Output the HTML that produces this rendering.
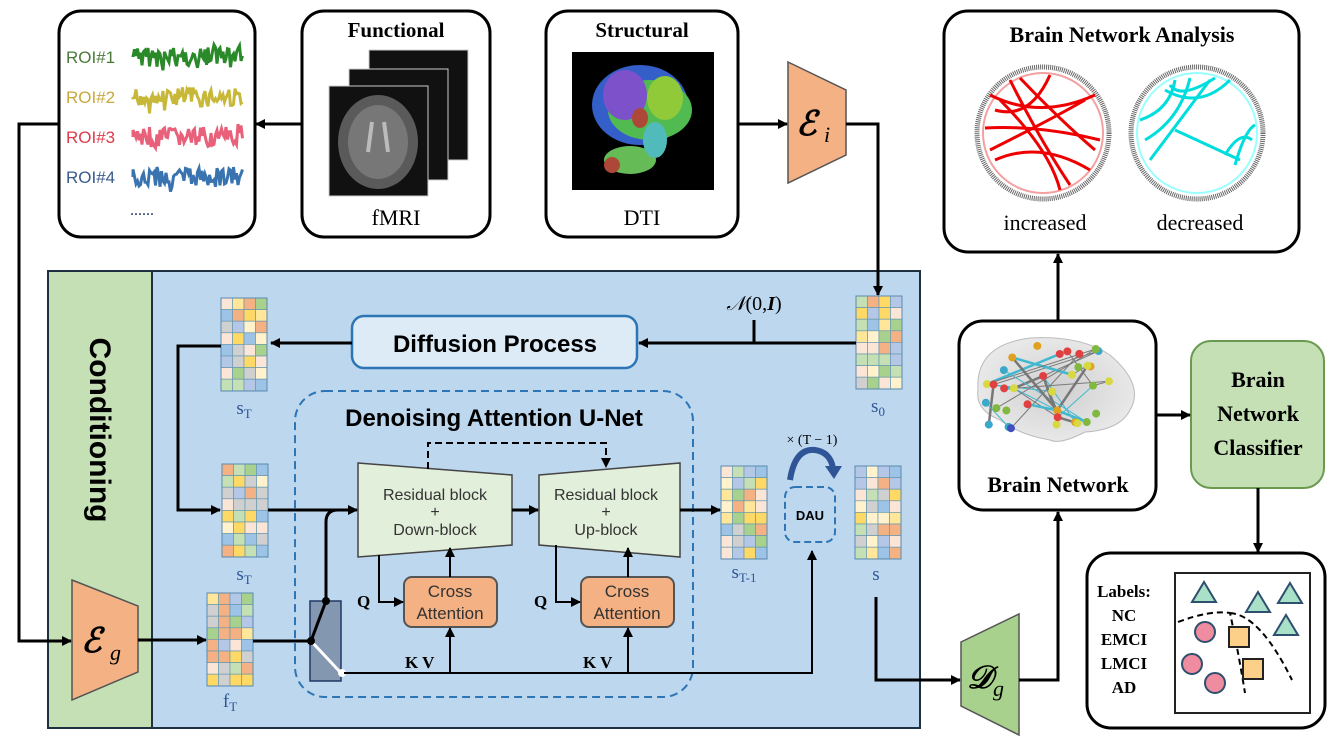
<!DOCTYPE html>
<html><head><meta charset="utf-8"><style>
html,body{margin:0;padding:0;background:#fff;}
svg{display:block;}
.ser{font-family:"Liberation Serif",serif;}
.san{font-family:"Liberation Sans","DejaVu Sans",sans-serif;}
</style></head><body>
<svg id="s" width="1335" height="747" viewBox="0 0 1335 747" xmlns="http://www.w3.org/2000/svg">
<defs>
<marker id="a" markerWidth="10" markerHeight="10" refX="9" refY="5" orient="auto" markerUnits="userSpaceOnUse"><path d="M0,0 L10,5 L0,10 z" fill="#000"/></marker>
<radialGradient id="br" cx="50%" cy="50%" r="50%"><stop offset="0" stop-color="#cfcfcf"/><stop offset="1" stop-color="#e8e8e8"/></radialGradient>
</defs>

<!-- main panel -->
<rect x="48" y="271" width="872" height="457" fill="#bdd7ee" stroke="#1f3040" stroke-width="2"/>
<rect x="48" y="271" width="104" height="457" fill="#c5e0b4" stroke="#1f3040" stroke-width="2"/>
<text transform="translate(90,430) rotate(90)" class="san" font-size="30" font-weight="bold" text-anchor="middle">Conditioning</text>

<!-- top boxes -->
<rect x="59" y="11" width="196" height="226" rx="22" fill="#fff" stroke="#000" stroke-width="3"/>
<rect x="302" y="11" width="188" height="226" rx="22" fill="#fff" stroke="#000" stroke-width="3"/>
<rect x="546" y="11" width="192" height="226" rx="22" fill="#fff" stroke="#000" stroke-width="3"/>
<g class="san" font-size="17">
<text x="66" y="63" fill="#4a7a3a">ROI#1</text>
<text x="66" y="103" fill="#c9a83a">ROI#2</text>
<text x="66" y="143" fill="#e03a4a">ROI#3</text>
<text x="66" y="183" fill="#3a5a8a">ROI#4</text>
</g>
<g id="sig" fill="none" stroke-width="3"></g>
<text x="130" y="215" class="ser" font-size="16" fill="#1f3864">......</text>

<text x="396" y="37" class="ser" font-size="21" font-weight="bold" text-anchor="middle">Functional</text>
<rect x="369" y="50" width="99" height="110" fill="#111" stroke="#ccc"/>
<rect x="349" y="69" width="99" height="111" fill="#111" stroke="#ccc"/>
<rect x="329" y="86" width="99" height="110" fill="#111" stroke="#ccc"/>
<ellipse cx="378" cy="142" rx="40" ry="47" fill="#5a5a5a"/>
<ellipse cx="378" cy="142" rx="30" ry="37" fill="#777"/>
<path d="M372,122 L368,152 M384,122 L388,152" stroke="#bbb" stroke-width="4"/>
<text x="396" y="225" class="ser" font-size="22" text-anchor="middle">fMRI</text>

<text x="642" y="37" class="ser" font-size="21" font-weight="bold" text-anchor="middle">Structural</text>
<rect x="572" y="52" width="142" height="138" fill="#000"/>
<g opacity="0.9">
<ellipse cx="640" cy="105" rx="48" ry="40" fill="#3a6adf"/>
<ellipse cx="650" cy="110" rx="42" ry="30" fill="#5ad05a"/>
<ellipse cx="625" cy="95" rx="22" ry="25" fill="#8a5ae0"/>
<ellipse cx="665" cy="98" rx="18" ry="22" fill="#a0e040"/>
<ellipse cx="630" cy="160" rx="26" ry="14" fill="#70d060"/>
<ellipse cx="655" cy="140" rx="12" ry="18" fill="#5ad0d0"/>
<ellipse cx="640" cy="118" rx="8" ry="10" fill="#c05040"/>
<ellipse cx="612" cy="165" rx="8" ry="8" fill="#c05040"/>
</g>
<text x="642" y="225" class="ser" font-size="22" text-anchor="middle">DTI</text>

<!-- Ei encoder -->
<polygon points="788,62 846,90 846,155 788,183" fill="#f4b183" stroke="#555" stroke-width="1.5"/>
<text x="796" y="135" class="ser" font-size="34" font-style="italic" font-weight="bold">ℰ</text>
<text x="824" y="142" class="ser" font-size="22" font-style="italic">i</text>
<line x1="738" y1="124" x2="787" y2="124" stroke="#000" stroke-width="3" marker-end="url(#a)"/>
<polyline points="846,124 878,124 878,295" fill="none" stroke="#000" stroke-width="3" marker-end="url(#a)"/>

<!-- ROI line to Eg -->
<line x1="302" y1="124" x2="256" y2="124" stroke="#000" stroke-width="3" marker-end="url(#a)"/>
<polyline points="59,124 19,124 19,641 71,641" fill="none" stroke="#000" stroke-width="3" marker-end="url(#a)"/>

<!-- Right side -->
<rect x="944" y="11" width="355" height="241" rx="24" fill="#fff" stroke="#000" stroke-width="3"/>
<text x="1122" y="42" class="ser" font-size="22" font-weight="bold" text-anchor="middle">Brain Network Analysis</text>
<circle cx="1043" cy="133" r="66" fill="none" stroke="#666" stroke-width="5" stroke-dasharray="1 1"/>
<circle cx="1043" cy="133" r="60" fill="#fff" stroke="#f3a0a0" stroke-width="2"/>
<g fill="none" stroke="#e00" stroke-width="3">
<path d="M990,95 Q1040,120 1095,95"/><path d="M985,128 Q1040,125 1100,140"/><path d="M995,160 Q1040,140 1090,170"/>
<path d="M1010,80 Q1040,140 1070,185"/><path d="M1050,75 Q1030,120 995,110"/><path d="M1000,100 Q1050,150 1060,190"/>
<path d="M1020,78 Q1060,120 1095,150"/><path d="M990,150 Q1050,120 1085,100"/></g>
<circle cx="1197" cy="133" r="66" fill="none" stroke="#666" stroke-width="5" stroke-dasharray="1 1"/>
<circle cx="1197" cy="133" r="60" fill="#fff" stroke="#9ff" stroke-width="2"/>
<g fill="none" stroke="#0dd" stroke-width="3">
<path d="M1140,120 Q1170,110 1175,80"/><path d="M1145,140 Q1180,120 1190,78"/><path d="M1150,160 Q1180,120 1210,80"/>
<path d="M1165,90 Q1200,110 1230,80"/><path d="M1175,130 L1240,160"/><path d="M1235,165 Q1245,130 1255,125"/>
<path d="M1225,155 Q1240,130 1252,140"/><path d="M1170,85 Q1180,100 1215,78"/></g>
<text x="1045" y="230" class="ser" font-size="22" text-anchor="middle">increased</text>
<text x="1200" y="230" class="ser" font-size="22" text-anchor="middle">decreased</text>

<line x1="1058" y1="321" x2="1058" y2="254" stroke="#000" stroke-width="3" marker-end="url(#a)"/>
<rect x="959" y="321" width="197" height="189" rx="24" fill="#fff" stroke="#000" stroke-width="3"/>
<path d="M978,390 Q975,345 1030,338 Q1080,335 1110,355 Q1145,385 1130,410 Q1120,430 1085,432 Q1060,445 1050,440 Q1020,435 1000,420 Q975,410 978,390z" fill="url(#br)" stroke="#bbb"/>
<g id="bn"></g>
<text x="1058" y="492" class="ser" font-size="22" font-weight="bold" text-anchor="middle">Brain Network</text>

<rect x="1191" y="341" width="133" height="147" rx="20" fill="#c5e0b4" stroke="#6a9a4f" stroke-width="2"/>
<g class="ser" font-size="22" font-weight="bold" text-anchor="middle">
<text x="1258" y="387">Brain</text><text x="1258" y="421">Network</text><text x="1258" y="455">Classifier</text></g>
<line x1="1156" y1="415" x2="1190" y2="415" stroke="#000" stroke-width="3" marker-end="url(#a)"/>
<line x1="1258" y1="488" x2="1258" y2="552" stroke="#000" stroke-width="3" marker-end="url(#a)"/>

<rect x="1087" y="553" width="238" height="175" rx="24" fill="#fff" stroke="#000" stroke-width="3"/>
<g class="ser" font-size="17" font-weight="bold" text-anchor="middle">
<text x="1124" y="597">Labels:</text><text x="1124" y="621">NC</text><text x="1124" y="645">EMCI</text><text x="1124" y="669">LMCI</text><text x="1124" y="693">AD</text></g>
<rect x="1175" y="573" width="135" height="140" fill="#fff" stroke="#222" stroke-width="2"/>
<g fill="#a8e0c8" stroke="#2f4f6f" stroke-width="2">
<polygon points="1204,582 1216,602 1192,602"/><polygon points="1258,592 1270,612 1246,612"/>
<polygon points="1290,583 1302,603 1278,603"/><polygon points="1286,615 1298,635 1274,635"/></g>
<path d="M1178,622 Q1210,610 1230,613 Q1238,650 1245,693 M1230,613 Q1260,615 1292,680" fill="none" stroke="#000" stroke-width="2" stroke-dasharray="6 4"/>
<g fill="#f08ca0" stroke="#2f4f6f" stroke-width="2">
<circle cx="1205" cy="632" r="10"/><circle cx="1192" cy="664" r="10"/><circle cx="1215" cy="683" r="10"/></g>
<g fill="#fdd08a" stroke="#222" stroke-width="2">
<rect x="1229" y="627" width="20" height="20"/><rect x="1243" y="659" width="20" height="20"/></g>

<polygon points="72,580 138,606 138,672 72,700" fill="#f4b183" stroke="#555" stroke-width="1.5"/>
<text x="81" y="652" class="ser" font-size="34" font-style="italic" font-weight="bold">ℰ</text>
<text x="110" y="660" class="ser" font-size="22" font-style="italic">g</text>
<line x1="138" y1="640" x2="206" y2="640" stroke="#000" stroke-width="3" marker-end="url(#a)"/>

<g id="mats"></g>
<g class="ser" font-size="19" fill="#2f5597" text-anchor="middle">
<text x="244" y="414">s<tspan font-size="13" dy="4">T</tspan></text>
<text x="244" y="580">s<tspan font-size="13" dy="4">T</tspan></text>
<text x="230" y="707">f<tspan font-size="13" dy="4">T</tspan></text>
<text x="744" y="578">s<tspan font-size="13" dy="4">T-1</tspan></text>
<text x="878" y="412">s<tspan font-size="13" dy="4">0</tspan></text>
<text x="876" y="580">s</text>
</g>

<rect x="352" y="316" width="285" height="52" rx="12" fill="#ddebf7" stroke="#2e75b6" stroke-width="2.5"/>
<text x="495" y="352" class="san" font-size="24" font-weight="bold" text-anchor="middle">Diffusion Process</text>
<line x1="856" y1="343" x2="639" y2="343" stroke="#000" stroke-width="3" marker-end="url(#a)"/>
<line x1="754" y1="343" x2="754" y2="320" stroke="#000" stroke-width="3"/>
<text x="754" y="310" class="ser" font-size="20" text-anchor="middle"><tspan font-style="italic">𝒩</tspan>(0,<tspan font-weight="bold" font-style="italic">I</tspan>)</text>
<line x1="352" y1="343" x2="271" y2="343" stroke="#000" stroke-width="3" marker-end="url(#a)"/>
<polyline points="221,346 178,346 178,510 220,510" fill="none" stroke="#000" stroke-width="3" marker-end="url(#a)"/>

<rect x="295" y="391" width="398" height="306" rx="30" fill="none" stroke="#2e75b6" stroke-width="2" stroke-dasharray="8 5"/>
<text x="494" y="426" class="san" font-size="24" font-weight="bold" text-anchor="middle">Denoising Attention U-Net</text>

<polygon points="358,463 512,475 512,545 358,557" fill="#e2efda" stroke="#444" stroke-width="1.5"/>
<polygon points="539,475 680,463 680,557 539,545" fill="#e2efda" stroke="#444" stroke-width="1.5"/>
<g class="san" font-size="16" text-anchor="middle" fill="#333">
<text x="435" y="500">Residual block</text><text x="435" y="517">+</text><text x="435" y="535">Down-block</text>
<text x="606" y="500">Residual block</text><text x="606" y="517">+</text><text x="606" y="535">Up-block</text></g>
<polyline points="428,469 428,443 606,443 606,467" fill="none" stroke="#000" stroke-width="2" stroke-dasharray="7 4" marker-end="url(#a)"/>
<line x1="512" y1="510" x2="538" y2="510" stroke="#000" stroke-width="3" marker-end="url(#a)"/>
<line x1="268" y1="510" x2="357" y2="510" stroke="#000" stroke-width="3" marker-end="url(#a)"/>
<line x1="680" y1="510" x2="720" y2="510" stroke="#000" stroke-width="3" marker-end="url(#a)"/>

<rect x="404" y="577" width="93" height="50" rx="8" fill="#f4b183" stroke="#555" stroke-width="2"/>
<rect x="581" y="577" width="93" height="50" rx="8" fill="#f4b183" stroke="#555" stroke-width="2"/>
<g class="san" font-size="17" text-anchor="middle" fill="#333">
<text x="450" y="597">Cross</text><text x="450" y="619">Attention</text>
<text x="627" y="597">Cross</text><text x="627" y="619">Attention</text></g>
<polyline points="379,555 379,602 403,602" fill="none" stroke="#000" stroke-width="2" marker-end="url(#a)"/>
<polyline points="556,545 556,602 580,602" fill="none" stroke="#000" stroke-width="2" marker-end="url(#a)"/>
<line x1="450" y1="577" x2="450" y2="548" stroke="#000" stroke-width="2" marker-end="url(#a)"/>
<line x1="628" y1="577" x2="628" y2="548" stroke="#000" stroke-width="2" marker-end="url(#a)"/>
<g class="ser" font-size="17" font-weight="bold"><text x="357" y="607">Q</text><text x="534" y="607">Q</text>
<text x="405" y="668">K V</text><text x="583" y="668">K V</text></g>

<rect x="310" y="601" width="31" height="80" fill="#8497b0" stroke="#1f3864" stroke-width="1.5"/>
<line x1="253" y1="641" x2="311" y2="641" stroke="#000" stroke-width="3"/>
<line x1="311" y1="641" x2="326" y2="601" stroke="#000" stroke-width="3"/>
<path d="M326,601 L326,522 Q326,510 338,510" fill="none" stroke="#000" stroke-width="3"/>
<line x1="311" y1="641" x2="341" y2="673" stroke="#fff" stroke-width="3"/>
<circle cx="311" cy="641" r="4" fill="#000"/><circle cx="326" cy="601" r="4" fill="#000"/><circle cx="342" cy="673" r="4" fill="#fff"/>
<polyline points="344,673 812,673 812,551" fill="none" stroke="#000" stroke-width="2" marker-end="url(#a)"/>
<line x1="450" y1="673" x2="450" y2="628" stroke="#000" stroke-width="2" marker-end="url(#a)"/>
<line x1="628" y1="673" x2="628" y2="628" stroke="#000" stroke-width="2" marker-end="url(#a)"/>

<rect x="785" y="487" width="50" height="55" rx="10" fill="none" stroke="#2e75b6" stroke-width="2" stroke-dasharray="7 4"/>
<text x="810" y="520" class="san" font-size="13" font-weight="bold" text-anchor="middle">DAU</text>
<path d="M790,480 Q795,448 815,450 Q830,452 833,468" fill="none" stroke="#2f5597" stroke-width="6"/>
<polygon points="825,466 842,466 834,479" fill="#2f5597"/>
<text x="812" y="444" class="ser" font-size="14" text-anchor="middle">× (T − 1)</text>

<polyline points="876,597 876,680 960,680" fill="none" stroke="#000" stroke-width="3" marker-end="url(#a)"/>
<polygon points="961,642 1019,614 1019,735 961,706" fill="#a9d18e" stroke="#555" stroke-width="1.5"/>
<text x="967" y="688" class="ser" font-size="32" font-style="italic" font-weight="bold">𝒟</text>
<text x="993" y="696" class="ser" font-size="22" font-style="italic">g</text>
<polyline points="1019,680 1058,680 1058,512" fill="none" stroke="#000" stroke-width="3" marker-end="url(#a)"/>
</svg>
<script>
var NS="http://www.w3.org/2000/svg";
function el(p,t,a){var e=document.createElementNS(NS,t);for(var k in a)e.setAttribute(k,a[k]);p.appendChild(e);return e;}
var seed=7;function r(){seed=(seed*9301+49297)%233280;return seed/233280;}
var sig=document.getElementById('sig');
[["#2a8a2a",57],["#c8b83a",97],["#e8607a",137],["#3a74b0",177]].forEach(function(c){
 var d="M133,"+c[1];for(var x=133;x<=243;x+=1.5){d+=" L"+x+","+(c[1]+(r()-0.5)*20+(r()<0.08?(r()-0.3)*26:0)).toFixed(1);}
 el(sig,'path',{d:d,stroke:c[0]});});
var cols=["#9dc3e6","#fbe5d6","#f4b183","#ffe699","#d0d0d0","#a9d18e","#b4c7e7","#c5e0b4","#fff2cc","#ffd966"];
var mats=document.getElementById('mats');
[[221,298],[856,296],[222,464],[207,593],[721,466],[855,466]].forEach(function(m){
 for(var i=0;i<8;i++)for(var j=0;j<4;j++)el(mats,'rect',{x:m[0]+j*11.5,y:m[1]+i*11.6,width:11.5,height:11.6,fill:cols[Math.floor(r()*cols.length)],stroke:"#6a9ab0","stroke-width":0.7});
 el(mats,'rect',{x:m[0],y:m[1],width:46,height:93,fill:"none",stroke:"#5b8bb0","stroke-width":1});});
var bn=document.getElementById('bn');var pts=[];var pc=["#e04040","#3aa8c8","#4050c0","#e0a020","#80b840","#d8d840"];
for(var k=0;k<34;k++){pts.push([985+r()*125,345+r()*85,pc[Math.floor(r()*6)]]);}
for(var k=0;k<30;k++){var a=pts[Math.floor(r()*34)],b=pts[Math.floor(r()*34)];el(bn,'line',{x1:a[0],y1:a[1],x2:b[0],y2:b[1],stroke:r()<0.5?"#40b8d0":"#777","stroke-width":r()<0.5?2.5:1});}
pts.forEach(function(p){el(bn,'circle',{cx:p[0],cy:p[1],r:4,fill:p[2]});});
</script>
</body></html>
